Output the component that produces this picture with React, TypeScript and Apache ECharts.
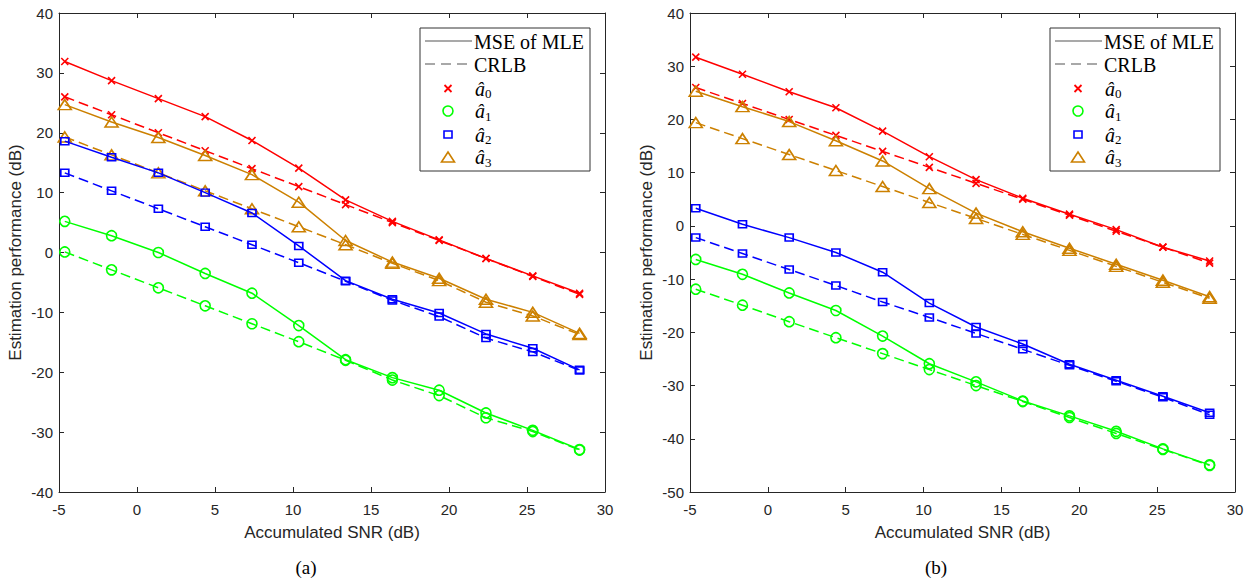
import React, { useEffect, useRef } from "react";
import * as echarts from "echarts";

// Accumulated SNR (dB) sample points
const snr = [-4.63, -1.63, 1.37, 4.37, 7.37, 10.37, 13.37, 16.37, 19.37, 22.37, 25.37, 28.37];

// Panel (a)
const mleA0 = [31.9, 28.7, 25.7, 22.7, 18.7, 14.1, 8.8, 5.2, 2.1, -1.0, -3.9, -6.8];
const crlbA0 = [26.0, 23.0, 20.0, 17.0, 14.0, 11.0, 8.0, 5.0, 2.0, -1.0, -4.0, -7.0];
const mleA1 = [5.2, 2.8, 0.0, -3.5, -6.8, -12.2, -17.9, -20.9, -23.0, -26.8, -29.7, -32.9];
const crlbA1 = [0.1, -2.9, -5.9, -8.9, -11.9, -14.9, -18.0, -21.3, -23.9, -27.6, -29.9, -33.0];
const mleA2 = [18.6, 15.9, 13.3, 10.0, 6.6, 1.1, -4.7, -7.8, -10.1, -13.6, -16.0, -19.6];
const crlbA2 = [13.3, 10.3, 7.3, 4.3, 1.3, -1.7, -4.8, -8.0, -10.7, -14.3, -16.6, -19.7];
const mleA3 = [24.7, 21.8, 19.2, 16.2, 13.0, 8.4, 2.0, -1.6, -4.3, -7.8, -10.0, -13.5];
const crlbA3 = [19.3, 16.3, 13.3, 10.3, 7.3, 4.3, 1.3, -1.8, -4.7, -8.3, -10.6, -13.7];

// Panel (b)
const mleB0 = [31.7, 28.5, 25.2, 22.2, 17.8, 13.0, 8.7, 5.2, 2.2, -0.7, -4.0, -6.6];
const crlbB0 = [26.0, 23.0, 20.0, 17.0, 14.0, 11.0, 8.0, 5.0, 2.0, -1.0, -4.0, -7.0];
const mleB1 = [-6.3, -9.1, -12.6, -15.9, -20.7, -25.9, -29.3, -32.9, -35.7, -38.6, -41.9, -44.9];
const crlbB1 = [-11.9, -14.9, -18.0, -21.0, -24.0, -27.0, -30.0, -33.0, -36.0, -39.0, -42.0, -45.0];
const mleB2 = [3.3, 0.3, -2.2, -5.0, -8.7, -14.5, -19.0, -22.2, -26.0, -29.0, -32.0, -35.1];
const crlbB2 = [-2.2, -5.2, -8.2, -11.2, -14.3, -17.2, -20.2, -23.2, -26.2, -29.2, -32.2, -35.5];
const mleB3 = [25.3, 22.4, 19.6, 16.0, 12.2, 7.0, 2.4, -1.1, -4.2, -7.2, -10.2, -13.3];
const crlbB3 = [19.4, 16.4, 13.4, 10.4, 7.4, 4.4, 1.4, -1.6, -4.6, -7.6, -10.6, -13.6];

const legendLabels = ["MSE of MLE", "CRLB"];
const paramSubs = ["0", "1", "2", "3"];
const xAxisTitle = "Accumulated SNR (dB)";
const yAxisTitle = "Estimation performance (dB)";
const captions = ["(a)", "(b)"];

const COLORS = ["#FF0000", "#00FF00", "#0000FF", "#CC8000"];
const XMARK = "path://M0,0L10,10M10,0L0,10";
const SYMBOLS = [XMARK, "circle", "rect", "triangle"];
const SYMSIZE: any[] = [[7, 7], [10, 10], [8, 7], [13, 10]];
const AX = "#262626";
const SANS = "Liberation Sans";
const SERIF = "Liberation Serif";
const DASH = [10, 5];

function pairs(ys: number[]) {
  return snr.map((x, i) => [x, ys[i]]);
}

function makeSeries(ys: number[], k: number, dashed: boolean, axisIdx: number) {
  return {
    type: "line",
    xAxisIndex: axisIdx,
    yAxisIndex: axisIdx,
    data: pairs(ys),
    symbol: SYMBOLS[k],
    symbolSize: SYMSIZE[k],
    showSymbol: true,
    showAllSymbol: true,
    lineStyle: { color: COLORS[k], width: 1.5, type: dashed ? DASH : "solid" },
    itemStyle: { color: "rgba(0,0,0,0)", borderColor: COLORS[k], borderWidth: 1.6 },
    emphasis: { disabled: true },
    silent: true,
    z: dashed ? 2 : 3,
  };
}

function axesFor(grid: number, ymin: number, ymax: number) {
  const line = { show: true, onZero: false, lineStyle: { color: AX, width: 1 } };
  const tick = { show: true, inside: true, length: 5, lineStyle: { color: AX, width: 1 } };
  const xs = [
    {
      type: "value", gridIndex: grid, min: -5, max: 30, interval: 5, position: "bottom",
      axisLine: line, axisTick: tick, splitLine: { show: false },
      axisLabel: { color: AX, fontSize: 15, fontFamily: SANS, margin: 10 },
      name: xAxisTitle, nameLocation: "middle", nameGap: 32,
      nameTextStyle: { color: AX, fontSize: 17, fontFamily: SANS },
    },
    {
      type: "value", gridIndex: grid, min: -5, max: 30, interval: 5, position: "top",
      axisLine: line, axisTick: tick, splitLine: { show: false }, axisLabel: { show: false },
    },
  ];
  const ys = [
    {
      type: "value", gridIndex: grid, min: ymin, max: ymax, interval: 10, position: "left",
      axisLine: line, axisTick: tick, splitLine: { show: false },
      axisLabel: { color: AX, fontSize: 15, fontFamily: SANS, margin: 6 },
      name: yAxisTitle, nameLocation: "middle", nameGap: 35,
      nameTextStyle: { color: AX, fontSize: 17, fontFamily: SANS },
    },
    {
      type: "value", gridIndex: grid, min: ymin, max: ymax, interval: 10, position: "right",
      axisLine: line, axisTick: tick, splitLine: { show: false }, axisLabel: { show: false },
    },
  ];
  return { xs, ys };
}

function txt(x: number, y: number, text: string, font: string, align = "left") {
  return {
    type: "text",
    x, y,
    silent: true,
    style: {
      text, font, fill: "#000",
      align, verticalAlign: "middle",
      textAlign: align, textVerticalAlign: "middle",
    },
  };
}

function legendGraphic(left: number) {
  const top = 28;
  const rows = [41, 64, 88.5, 111, 134.5, 157];
  const mx = left + 28;
  const els: any[] = [
    { type: "rect", silent: true, shape: { x: left, y: top, width: 170, height: 143 }, style: { fill: "#fff", stroke: "#333", lineWidth: 1 }, z: 10 },
    { type: "line", silent: true, shape: { x1: left + 5, y1: rows[0], x2: left + 52, y2: rows[0] }, style: { stroke: "#8c8c8c", lineWidth: 1.5 }, z: 11 },
    { type: "line", silent: true, shape: { x1: left + 5, y1: rows[1], x2: left + 52, y2: rows[1] }, style: { stroke: "#8c8c8c", lineWidth: 1.5, lineDash: [10, 6] }, z: 11 },
    { ...txt(left + 54, rows[0] + 1, legendLabels[0], `20px "${SERIF}"`), z: 11 },
    { ...txt(left + 54, rows[1] + 1, legendLabels[1], `20px "${SERIF}"`), z: 11 },
    // x mark
    { type: "line", silent: true, shape: { x1: mx - 3.5, y1: rows[2] - 3.5, x2: mx + 3.5, y2: rows[2] + 3.5 }, style: { stroke: COLORS[0], lineWidth: 1.8 }, z: 11 },
    { type: "line", silent: true, shape: { x1: mx + 3.5, y1: rows[2] - 3.5, x2: mx - 3.5, y2: rows[2] + 3.5 }, style: { stroke: COLORS[0], lineWidth: 1.8 }, z: 11 },
    // circle
    { type: "circle", silent: true, shape: { cx: mx, cy: rows[3], r: 5 }, style: { fill: "none", stroke: COLORS[1], lineWidth: 1.6 }, z: 11 },
    // square
    { type: "rect", silent: true, shape: { x: mx - 4, y: rows[4] - 3.5, width: 8, height: 7 }, style: { fill: "none", stroke: COLORS[2], lineWidth: 1.6 }, z: 11 },
    // triangle
    { type: "polygon", silent: true, shape: { points: [[mx - 6.5, rows[5] + 5], [mx + 6.5, rows[5] + 5], [mx, rows[5] - 5]] }, style: { fill: "none", stroke: COLORS[3], lineWidth: 1.6 }, z: 11 },
  ];
  for (let k = 0; k < 4; k++) {
    els.push({ ...txt(left + 55, rows[2 + k], "â", `italic 20px "${SERIF}"`), z: 11 });
    els.push({ ...txt(left + 65, rows[2 + k] + 5, paramSubs[k], `13px "${SERIF}"`), z: 11 });
  }
  return els;
}

export default function App() {
  const ref = useRef<HTMLDivElement>(null);
  useEffect(() => {
    if (!ref.current) return;
    const chart = echarts.init(ref.current, null, { renderer: "svg" });
    const a = axesFor(0, -40, 40);
    const b = axesFor(1, -50, 40);
    const series = [
      makeSeries(crlbA0, 0, true, 0), makeSeries(mleA0, 0, false, 0),
      makeSeries(crlbA1, 1, true, 0), makeSeries(mleA1, 1, false, 0),
      makeSeries(crlbA2, 2, true, 0), makeSeries(mleA2, 2, false, 0),
      makeSeries(crlbA3, 3, true, 0), makeSeries(mleA3, 3, false, 0),
      makeSeries(crlbB0, 0, true, 2), makeSeries(mleB0, 0, false, 2),
      makeSeries(crlbB1, 1, true, 2), makeSeries(mleB1, 1, false, 2),
      makeSeries(crlbB2, 2, true, 2), makeSeries(mleB2, 2, false, 2),
      makeSeries(crlbB3, 3, true, 2), makeSeries(mleB3, 3, false, 2),
    ];
    const option: any = {
      animation: false,
      backgroundColor: "#ffffff",
      grid: [
        { left: 59, top: 13, width: 546, height: 479, containLabel: false },
        { left: 690, top: 13, width: 545, height: 479, containLabel: false },
      ],
      xAxis: [...a.xs, ...b.xs],
      yAxis: [...a.ys, ...b.ys],
      series,
      graphic: [
        ...legendGraphic(420),
        ...legendGraphic(1050),
        txt(306, 567, captions[0], `19px "${SERIF}"`, "center"),
        txt(936, 567, captions[1], `19px "${SERIF}"`, "center"),
      ],
    };
    chart.setOption(option);
    return () => chart.dispose();
  }, []);
  return (
    <div
      ref={ref}
      style={{ position: "absolute", left: 0, top: 0, width: 1253, height: 583, background: "#fff" }}
    />
  );
}
